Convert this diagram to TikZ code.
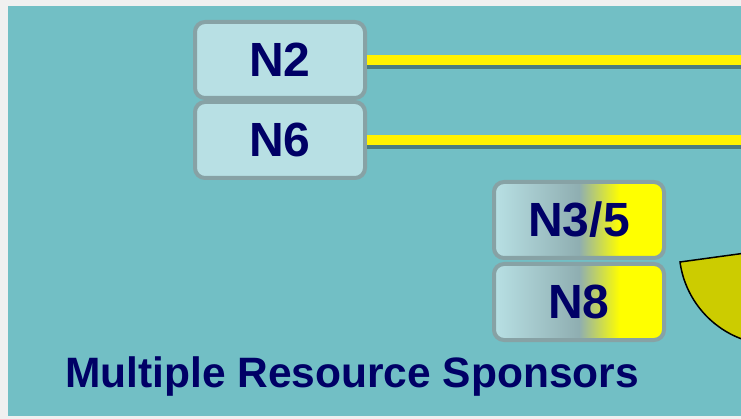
\documentclass[tikz,border=0pt]{standalone}
\usepackage{fontspec}
\setmainfont{Liberation Sans}
\usetikzlibrary{positioning}
\definecolor{paneteal}{HTML}{72BFC5}
\definecolor{pagegray}{HTML}{F0F0F0}
\definecolor{boxfill}{HTML}{B8E0E4}
\definecolor{boxedge}{HTML}{87A2A5}
\definecolor{boxmid}{HTML}{8FAEB1}
\definecolor{navytext}{HTML}{000066}
\definecolor{lineshadow}{HTML}{4A7C80}
\definecolor{wedgeolive}{HTML}{CCCC00}
\pgfdeclarehorizontalshading{sponsorfade}{100bp}{color(0bp)=(boxfill); color(25bp)=(boxfill); color(50bp)=(boxmid); color(62bp)=(yellow); color(100bp)=(yellow)}
\tikzset{
  sponsor/.style={draw=boxedge, line width=4pt, rounded corners=10pt, fill=boxfill, text=navytext, font=\fontsize{48}{50}\selectfont\bfseries, minimum width=170pt, minimum height=76pt, inner sep=0pt},
  fadebox/.style={sponsor, shading=sponsorfade},
  feed/.style={line width=10pt, yellow},
  feedshadow/.style={line width=10pt, lineshadow, transform canvas={yshift=-4pt}},
  caption/.style={text=navytext, font=\fontsize{42.5}{44}\selectfont\bfseries, inner sep=0pt},
}

\begin{document}
\begin{tikzpicture}[x=1pt, y=-1pt, node distance=0pt]
\useasboundingbox (0,0) rectangle (741,419);
\fill[pagegray] (0,0) rectangle (741,419);
\fill[paneteal] (8,6) rectangle (741,416);
\coordinate (rim) at (750,0);
\node[sponsor] (n2) at (280,60) {N2};
\node[sponsor, below=of n2] (n6) {N6};
\node[fadebox, below right=0pt and 125pt of n6] (n35) {N3/5};
\node[fadebox, below=2pt of n35] (n8) {N8};
\node[caption] (title) at (352,377) {Multiple Resource Sponsors};
\begin{scope}
\clip (0,0) rectangle (741,419);
\draw[feedshadow] (n2.east) -- (n2.east -| rim);
\draw[feed] (n2.east) -- (n2.east -| rim);
\draw[feedshadow] (n6.east) -- (n6.east -| rim);
\draw[feed] (n6.east) -- (n6.east -| rim);
% sponsor wedge, mostly off the right edge
\draw[fill=wedgeolive, line width=1.5pt] (775,249) -- (680,262) arc[start angle=172.2, end angle=60, radius=96] -- cycle;
\end{scope}
\end{tikzpicture}
\end{document}
